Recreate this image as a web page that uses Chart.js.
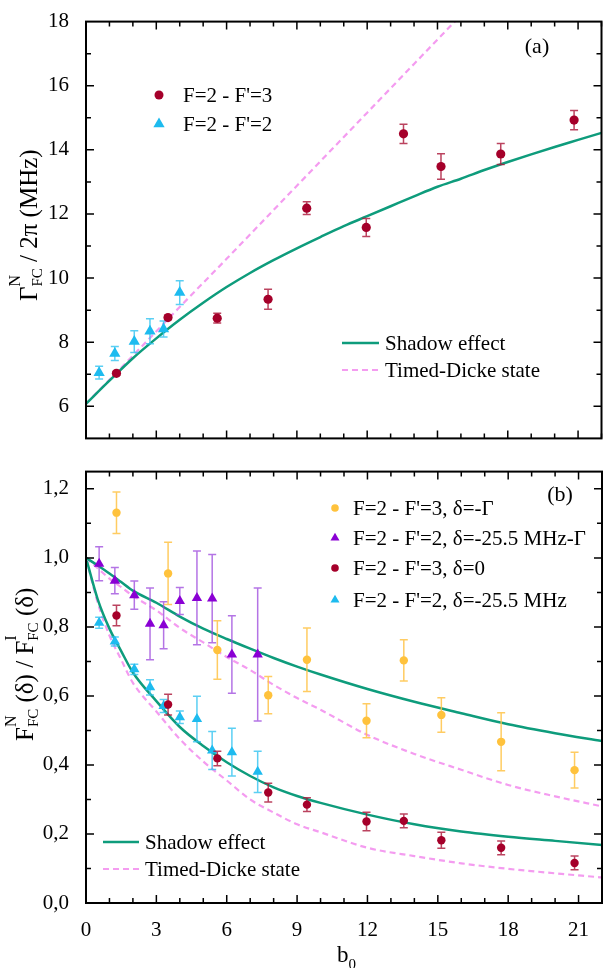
<!DOCTYPE html>
<html>
<head>
<meta charset="utf-8">
<script src="https://cdn.jsdelivr.net/npm/chart.js@4.4.0/dist/chart.umd.min.js"></script>
<style>
body{margin:0;background:#fff;}
#wrap{position:relative;width:608px;height:968px;overflow:hidden;background:#fff;}
canvas{position:absolute;left:0;}
#top-chart{top:0;}
#bottom-chart{top:450px;}
</style>
</head>
<body>
<div id="wrap">
<canvas id="top-chart" width="608" height="460"></canvas>
<canvas id="bottom-chart" width="608" height="518"></canvas>
</div>
<script>
const serif = "'Liberation Serif', 'Times New Roman', serif";

// axis ticks
const xTicks = [0, 3, 6, 9, 12, 15, 18, 21];
const topYTicks = [6, 8, 10, 12, 14, 16, 18];
const botYTicks = [0, 0.2, 0.4, 0.6, 0.8, 1.0, 1.2];
const botYLabels = ['0,0', '0,2', '0,4', '0,6', '0,8', '1,0', '1,2'];

// panel (a) : Gamma_FC / 2pi (MHz)
const aF3x = [1.3, 3.5, 5.6, 7.77, 9.42, 11.96, 13.55, 15.15, 17.7, 20.83];
const aF3y = [7.03, 8.77, 8.75, 9.34, 12.18, 11.58, 14.50, 13.48, 13.87, 14.93];
const aF3err = [0.06, 0.06, 0.15, 0.31, 0.2, 0.28, 0.3, 0.4, 0.33, 0.3];
const aF2x = [0.56, 1.23, 2.06, 2.73, 3.31, 4.0];
const aF2y = [7.05, 7.65, 8.02, 8.34, 8.41, 9.55];
const aF2err = [0.2, 0.22, 0.34, 0.39, 0.25, 0.37];
const aShadowX = [0, 1, 2, 3, 4, 5, 6, 7, 8, 9, 10, 11, 12, 13, 14, 15, 16, 17, 18, 19, 20, 21, 22];
const aShadowY = [6.08, 6.8, 7.5, 8.12, 8.7, 9.23, 9.72, 10.16, 10.56, 10.93, 11.28, 11.62, 11.93, 12.24, 12.55, 12.85, 13.1, 13.37, 13.62, 13.86, 14.09, 14.31, 14.53];
const aDickeX = [0, 2, 4, 6, 8, 10, 12, 14, 16];
const aDickeY = [6.08, 7.58, 9.1, 10.6, 12.12, 13.64, 15.16, 16.68, 18.2];

// panel (b) : F_FC^N / F_FC^1
const bF3x = [1.3, 3.5, 5.6, 7.77, 9.42, 11.96, 13.55, 15.15, 17.7, 20.83];
const bF3GammaY = [1.131, 0.955, 0.733, 0.602, 0.705, 0.528, 0.703, 0.545, 0.467, 0.385];
const bF3GammaErr = [0.06, 0.09, 0.085, 0.054, 0.092, 0.049, 0.06, 0.05, 0.084, 0.052];
const bF3ZeroY = [0.833, 0.575, 0.419, 0.32, 0.285, 0.236, 0.238, 0.182, 0.16, 0.116];
const bF3ZeroErr = [0.03, 0.03, 0.021, 0.027, 0.02, 0.027, 0.02, 0.023, 0.02, 0.02];
const bF2x = [0.56, 1.23, 2.06, 2.73, 3.31, 4.0, 4.73, 5.38, 6.22, 7.32];
const bF2GammaY = [0.983, 0.934, 0.892, 0.809, 0.805, 0.875, 0.884, 0.882, 0.72, 0.72];
const bF2GammaErr = [0.049, 0.038, 0.041, 0.104, 0.068, 0.039, 0.136, 0.128, 0.112, 0.193];
const bF2Y = [0.812, 0.758, 0.677, 0.625, 0.571, 0.538, 0.533, 0.442, 0.437, 0.38];
const bF2Err = [0.016, 0.013, 0.015, 0.022, 0.019, 0.018, 0.066, 0.055, 0.069, 0.06];
const bCurveX = [0, 0.5, 1, 1.5, 2, 3, 4, 5, 6, 7, 8, 9, 10, 12, 14, 16, 18, 20, 22];
const bShadowUpper = [1.0, 0.978, 0.955, 0.93, 0.905, 0.87, 0.83, 0.795, 0.765, 0.737, 0.71, 0.685, 0.662, 0.62, 0.583, 0.55, 0.518, 0.492, 0.469];
const bDickeUpper = [1.0, 0.97, 0.94, 0.915, 0.89, 0.848, 0.797, 0.755, 0.713, 0.675, 0.632, 0.594, 0.56, 0.487, 0.432, 0.386, 0.342, 0.309, 0.28];
const bShadowLower = [1.0, 0.88, 0.795, 0.73, 0.668, 0.585, 0.51, 0.455, 0.408, 0.368, 0.335, 0.31, 0.29, 0.256, 0.228, 0.207, 0.192, 0.18, 0.168];
const bDickeLower = [1.0, 0.87, 0.775, 0.705, 0.638, 0.555, 0.475, 0.41, 0.355, 0.30, 0.262, 0.228, 0.205, 0.16, 0.136, 0.115, 0.099, 0.086, 0.074];

const red = '#A5002A', redErr = 'rgba(170,20,55,0.8)';
const cyan = '#1DBBEF', cyanErr = 'rgba(50,195,240,0.8)';
const purple = '#8A00D4', purpleErr = 'rgba(155,70,220,0.75)';
const orange = '#FFC23C', orangeErr = 'rgba(255,195,70,0.85)';
const green = '#0E9C7C';
const pink = '#F49CF0';

function pts(xs, ys){ return xs.map((x, i) => ({x: x, y: ys[i]})); }

function marker(ctx, style, x, y, r, color){
  ctx.fillStyle = color;
  ctx.beginPath();
  if(style === 'triangle'){
    for(let k = 0; k < 3; k++){
      const ang = -Math.PI/2 + k*2*Math.PI/3;
      const px = x + r*Math.cos(ang), py = y + r*Math.sin(ang);
      if(k === 0) ctx.moveTo(px, py); else ctx.lineTo(px, py);
    }
    ctx.closePath();
  } else {
    ctx.arc(x, y, r, 0, Math.PI*2);
  }
  ctx.fill();
}

function drawRich(ctx, items){
  let x = 0, pend = 0;
  items.forEach(it => {
    ctx.font = it.size + 'px ' + serif;
    ctx.fillText(it.t, x, it.dy || 0);
    const w = ctx.measureText(it.t).width;
    if(it.keep){ pend = Math.max(pend, w); }
    else { x += Math.max(w, pend); pend = 0; }
  });
}

// per panel extras (ticks, legend, titles)
const panels = {
  'top-chart': {
    yMin: 5, yMax: 18, yMinor: 1, yMajorList: topYTicks,
    symbols: [
      {style: 'circle', color: red, r: 4.5, x: 159, y: 95, text: "F=2 - F'=3", tx: 183},
      {style: 'triangle', color: cyan, r: 6.5, x: 159, y: 124, text: "F=2 - F'=2", tx: 183}
    ],
    lines: [
      {color: green, dash: [], w: 2.5, x1: 342, x2: 379, y: 343, text: 'Shadow effect', tx: 385},
      {color: pink, dash: [6, 4], w: 2.2, x1: 342, x2: 379, y: 370, text: 'Timed-Dicke state', tx: 385}
    ],
    tag: {t: '(a)', x: 537, y: 47},
    ytitle: {x: 37, y: 301, items: [
      {t: 'Γ', size: 25}, {t: 'N', size: 16, dy: -17, keep: true}, {t: 'FC', size: 15, dy: 5},
      {t: ' / 2π (MHz)', size: 25}
    ]}
  },
  'bottom-chart': {
    yMin: 0, yMax: 1.25, yMinor: 0.1, yMajorList: botYTicks,
    symbols: [
      {style: 'circle', color: orange, r: 3.8, x: 335, y: 58, text: 'F=2 - F\'=3, δ=-Γ', tx: 353},
      {style: 'triangle', color: purple, r: 5.2, x: 335, y: 88, text: 'F=2 - F\'=2, δ=-25.5 MHz-Γ', tx: 353},
      {style: 'circle', color: red, r: 3.8, x: 335, y: 118, text: 'F=2 - F\'=3, δ=0', tx: 353},
      {style: 'triangle', color: cyan, r: 5.2, x: 335, y: 150, text: 'F=2 - F\'=2, δ=-25.5 MHz', tx: 353}
    ],
    lines: [
      {color: green, dash: [], w: 2.5, x1: 103, x2: 139, y: 392, text: 'Shadow effect', tx: 145},
      {color: pink, dash: [6, 4], w: 2.2, x1: 103, x2: 139, y: 419, text: 'Timed-Dicke state', tx: 145}
    ],
    tag: {t: '(b)', x: 560, y: 45},
    ytitle: {x: 33, y: 291, items: [
      {t: 'F', size: 25}, {t: 'N', size: 16, dy: -17, keep: true}, {t: 'FC', size: 15, dy: 5},
      {t: ' (δ) / F', size: 25}, {t: 'I', size: 16, dy: -17, keep: true}, {t: 'FC', size: 15, dy: 5},
      {t: ' (δ)', size: 25}
    ]},
    xtitle: {x: 337, y: 512}
  }
};

const panelPlugin = {
  id: 'panel',
  beforeDatasetDraw(chart, args){
    const ds = chart.data.datasets[args.index];
    if(!ds.err) return;
    const ctx = chart.ctx, xs = chart.scales.x, ys = chart.scales.y;
    ctx.save();
    ctx.strokeStyle = ds.errColor;
    ctx.lineWidth = 1.5;
    ds.data.forEach((p, i) => {
      const px = xs.getPixelForValue(p.x);
      const y1 = ys.getPixelForValue(p.y + ds.err[i]);
      const y2 = ys.getPixelForValue(p.y - ds.err[i]);
      ctx.beginPath();
      ctx.moveTo(px, y1); ctx.lineTo(px, y2);
      ctx.moveTo(px - 4, y1); ctx.lineTo(px + 4, y1);
      ctx.moveTo(px - 4, y2); ctx.lineTo(px + 4, y2);
      ctx.stroke();
    });
    ctx.restore();
  },
  afterDraw(chart){
    const cfg = panels[chart.canvas.id];
    const ctx = chart.ctx, a = chart.chartArea, xs = chart.scales.x, ys = chart.scales.y;
    ctx.save();
    ctx.strokeStyle = '#000';
    ctx.lineWidth = 1.5;
    ctx.beginPath();
    // inward ticks on all four sides
    for(let v = 0; v <= 22; v++){
      const px = xs.getPixelForValue(v);
      const len = xTicks.includes(v) ? 8 : 5;
      ctx.moveTo(px, a.bottom); ctx.lineTo(px, a.bottom - len);
      ctx.moveTo(px, a.top); ctx.lineTo(px, a.top + len);
    }
    for(let k = 1; cfg.yMin + k*cfg.yMinor < cfg.yMax; k++){
      const v = cfg.yMin + k*cfg.yMinor;
      const py = ys.getPixelForValue(v);
      const major = cfg.yMajorList.some(t => Math.abs(t - v) < 1e-6);
      const len = major ? 8 : 5;
      ctx.moveTo(a.left, py); ctx.lineTo(a.left + len, py);
      ctx.moveTo(a.right, py); ctx.lineTo(a.right - len, py);
    }
    ctx.stroke();
    ctx.lineWidth = 2;
    ctx.strokeRect(a.left, a.top, a.right - a.left, a.bottom - a.top);

    // legend
    ctx.fillStyle = '#000';
    ctx.textBaseline = 'middle';
    ctx.font = '21px ' + serif;
    cfg.symbols.forEach(s => {
      marker(ctx, s.style, s.x, s.y, s.r, s.color);
      ctx.fillStyle = '#000';
      ctx.fillText(s.text, s.tx, s.y + 1);
    });
    cfg.lines.forEach(l => {
      ctx.strokeStyle = l.color;
      ctx.lineWidth = l.w;
      ctx.setLineDash(l.dash);
      ctx.beginPath(); ctx.moveTo(l.x1, l.y); ctx.lineTo(l.x2, l.y); ctx.stroke();
      ctx.setLineDash([]);
      ctx.fillStyle = '#000';
      ctx.fillText(l.text, l.tx, l.y + 1);
    });
    ctx.font = '22px ' + serif;
    ctx.textAlign = 'center';
    ctx.fillText(cfg.tag.t, cfg.tag.x, cfg.tag.y);
    ctx.textAlign = 'left';

    // rotated y title
    ctx.textBaseline = 'alphabetic';
    ctx.save();
    ctx.translate(cfg.ytitle.x, cfg.ytitle.y);
    ctx.rotate(-Math.PI/2);
    drawRich(ctx, cfg.ytitle.items);
    ctx.restore();

    if(cfg.xtitle){
      ctx.save();
      ctx.translate(cfg.xtitle.x, cfg.xtitle.y);
      drawRich(ctx, [{t: 'b', size: 23}, {t: '0', size: 15, dy: 7}]);
      ctx.restore();
    }
    ctx.restore();
  }
};

function pointSet(label, xs, ys, err, style, color, errColor, r){
  return {label: label, data: pts(xs, ys), err: err, errColor: errColor,
    pointStyle: style, pointRadius: r, pointHoverRadius: r,
    backgroundColor: color, borderColor: color, borderWidth: 0, order: 1};
}
function curveSet(label, xs, ys, color, dash, w){
  return {label: label, data: pts(xs, ys), showLine: true, pointRadius: 0, pointHoverRadius: 0,
    borderColor: color, borderWidth: w, borderDash: dash, cubicInterpolationMode: 'monotone',
    fill: false, order: 2};
}

const tickFont = {family: serif, size: 21};

new Chart(document.getElementById('top-chart').getContext('2d'), {
  type: 'scatter',
  data: {datasets: [
    pointSet("F=2 - F'=3", aF3x, aF3y, aF3err, 'circle', red, redErr, 4.6),
    pointSet("F=2 - F'=2", aF2x, aF2y, aF2err, 'triangle', cyan, cyanErr, 6.5),
    curveSet('Shadow effect', aShadowX, aShadowY, green, [], 2.5),
    curveSet('Timed-Dicke state', aDickeX, aDickeY, pink, [6, 4], 2.2)
  ]},
  options: {
    responsive: false, animation: false, events: [],
    layout: {padding: {top: 14, right: 1, bottom: 2, left: 0}},
    plugins: {legend: {display: false}, tooltip: {enabled: false}},
    scales: {
      x: {type: 'linear', min: 0, max: 22, display: false},
      y: {min: 5, max: 18, grid: {display: false}, border: {display: false},
        ticks: {font: tickFont, color: '#000', padding: 9},
        afterBuildTicks: s => { s.ticks = topYTicks.map(v => ({value: v})); },
        afterFit: s => { s.width = 86; }}
    }
  },
  plugins: [panelPlugin]
});

new Chart(document.getElementById('bottom-chart').getContext('2d'), {
  type: 'scatter',
  data: {datasets: [
    pointSet("F=2 - F'=3, δ=-Γ", bF3x, bF3GammaY, bF3GammaErr, 'circle', orange, orangeErr, 4.2),
    pointSet("F=2 - F'=2, δ=-25.5 MHz-Γ", bF2x, bF2GammaY, bF2GammaErr, 'triangle', purple, purpleErr, 6),
    pointSet("F=2 - F'=3, δ=0", bF3x, bF3ZeroY, bF3ZeroErr, 'circle', red, redErr, 4.2),
    pointSet("F=2 - F'=2, δ=-25.5 MHz", bF2x, bF2Y, bF2Err, 'triangle', cyan, cyanErr, 6),
    curveSet('Shadow effect', bCurveX, bShadowUpper, green, [], 2.5),
    curveSet('Timed-Dicke state', bCurveX, bDickeUpper, pink, [6, 4], 2.2),
    curveSet('Shadow effect', bCurveX, bShadowLower, green, [], 2.5),
    curveSet('Timed-Dicke state', bCurveX, bDickeLower, pink, [6, 4], 2.2)
  ]},
  options: {
    responsive: false, animation: false, events: [],
    layout: {padding: {top: 8, right: 1, bottom: 0, left: 0}},
    plugins: {legend: {display: false}, tooltip: {enabled: false}},
    scales: {
      x: {type: 'linear', min: 0, max: 22, grid: {display: false}, border: {display: false},
        ticks: {font: tickFont, color: '#000', padding: 7, maxRotation: 0},
        afterBuildTicks: s => { s.ticks = xTicks.map(v => ({value: v})); },
        afterFit: s => { s.height = 65; }},
      y: {min: 0, max: 1.25, grid: {display: false}, border: {display: false},
        ticks: {font: tickFont, color: '#000', padding: 9,
          callback: v => botYLabels[botYTicks.findIndex(t => Math.abs(t - v) < 1e-6)]},
        afterBuildTicks: s => { s.ticks = botYTicks.map(v => ({value: v})); },
        afterFit: s => { s.width = 86; }}
    }
  },
  plugins: [panelPlugin]
});
</script>
</body>
</html>
